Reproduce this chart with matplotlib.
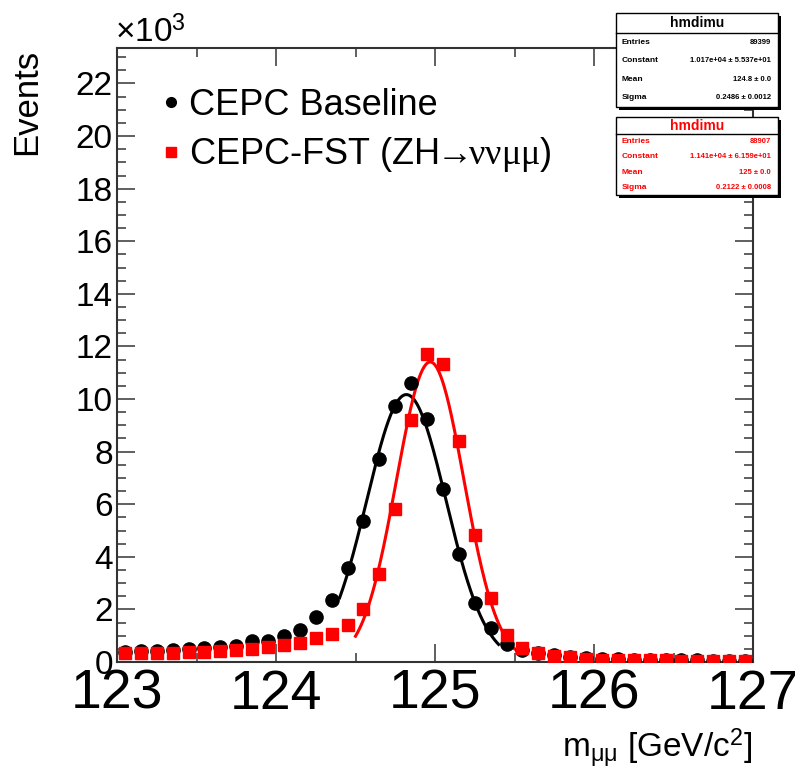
import numpy as np
import matplotlib
matplotlib.use('Agg')
import matplotlib.pyplot as plt
from matplotlib.patches import Rectangle
from matplotlib.lines import Line2D
from matplotlib.ticker import MultipleLocator

plt.rcParams['font.family'] = ['Liberation Sans', 'DejaVu Sans']
plt.rcParams['mathtext.fontset'] = 'custom'
plt.rcParams['mathtext.rm'] = 'Liberation Sans'
plt.rcParams['mathtext.it'] = 'Liberation Serif'

# bin centres, 0.1 GeV bins from 123 to 127
mass = np.round(np.arange(123.05, 127.0, 0.1), 2)
# events in units of 10^3
baseline = [0.38, 0.40, 0.42, 0.45, 0.50, 0.52, 0.58, 0.61, 0.78, 0.80,
            0.99, 1.22, 1.70, 2.36, 3.56, 5.37, 7.71, 9.73, 10.60, 9.23,
            6.57, 4.11, 2.26, 1.30, 0.68, 0.46, 0.33, 0.25, 0.20, 0.17,
            0.13, 0.11, 0.09, 0.08, 0.07, 0.06, 0.06, 0.05, 0.05, 0.05]
fst = [0.33, 0.33, 0.33, 0.36, 0.37, 0.39, 0.43, 0.46, 0.48, 0.56,
       0.65, 0.71, 0.90, 1.06, 1.41, 2.00, 3.35, 5.80, 9.20, 11.71,
       11.32, 8.42, 4.83, 2.42, 1.03, 0.55, 0.36, 0.23, 0.18, 0.10,
       0.08, 0.07, 0.07, 0.06, 0.06, 0.05, 0.05, 0.05, 0.05, 0.05]

# gaussian fit results (constant in 10^3, mean, sigma, fit range)
fit_base = (10.17, 124.82, 0.2486, 124.40, 125.40)
fit_fst = (11.41, 124.97, 0.2122, 124.50, 125.50)

stats_base = [('Entries', '89399'), ('Constant', '1.017e+04 ± 5.537e+01'),
              ('Mean', '124.8 ± 0.0'), ('Sigma', '0.2486 ± 0.0012')]
stats_fst = [('Entries', '88907'), ('Constant', '1.141e+04 ± 6.159e+01'),
             ('Mean', '125 ± 0.0'), ('Sigma', '0.2122 ± 0.0008')]

W, H = 795, 773
fig = plt.figure(figsize=(W/100, H/100), dpi=100)
ax = fig.add_axes([117/W, 1-662/H, (753-117)/W, (662-48)/H])


def gauss(x, c, m, s):
    return c*np.exp(-0.5*((x-m)/s)**2)


for p, col in [(fit_base, 'black'), (fit_fst, 'red')]:
    xx = np.linspace(p[3], p[4], 200)
    ax.plot(xx, gauss(xx, p[0], p[1], p[2]), color=col, lw=2.2, zorder=2)

ax.plot(mass, baseline, 'o', color='black', ms=9.5, zorder=3)
ax.plot(mass, fst, 's', color='red', ms=9, mec='red', zorder=4)

ax.set_xlim(123, 127)
ax.set_ylim(0, 23.35)
ax.xaxis.set_major_locator(MultipleLocator(1))
ax.xaxis.set_minor_locator(MultipleLocator(0.5))
ax.yaxis.set_major_locator(MultipleLocator(2))
ax.yaxis.set_minor_locator(MultipleLocator(0.5))
ax.tick_params(which='both', direction='in', top=True, right=True, color='#444')
ax.tick_params(which='major', length=13, width=1.2)
ax.tick_params(which='minor', length=6.5, width=1.2)
ax.tick_params(axis='x', labelsize=40, pad=5)
ax.tick_params(axis='y', labelsize=24, pad=3)
for sp in ax.spines.values():
    sp.set_linewidth(1.5)
    sp.set_color('#333')

fig.text(27/W, 1-102/H, 'Events', fontsize=25, rotation=90, ha='center', va='center')
fig.text(115/W, 1-42/H, '×10$^3$', fontsize=24)
fig.text(752/W, 1-757/H, 'm$_{\\mathrm{\\mu\\mu}}$ [GeV/c$^2$]', fontsize=24, ha='right')

handles = [Line2D([], [], marker='o', ls='', color='black', ms=7),
           Line2D([], [], marker='s', ls='', color='red', ms=7)]
ax.legend(handles, ['CEPC Baseline',
                    'CEPC-FST (ZH$\\!\\!\\rightarrow\\!\\!\\nu\\nu\\mu\\mu$)'],
          fontsize=26, loc='upper left', bbox_to_anchor=(0.045, 0.965), frameon=False,
          handlelength=0.4, handletextpad=0.3, labelspacing=0.35, borderpad=0)


def stat_box(top, bottom, sep, rows, col):
    x0, x1 = 616, 778
    tr = fig.transFigure
    fig.patches.append(Rectangle((x0/W+3/W, 1-(bottom+3)/H), (x1-x0)/W, (bottom-top)/H,
                                 transform=tr, facecolor='black', edgecolor='none', zorder=10))
    fig.patches.append(Rectangle((x0/W, 1-bottom/H), (x1-x0)/W, (bottom-top)/H,
                                 transform=tr, facecolor='white', edgecolor='black', lw=1, zorder=11))
    fig.lines.append(Line2D([x0/W, x1/W], [1-sep/H, 1-sep/H], transform=tr,
                            color='black', lw=1, zorder=12))
    fig.text((x0+x1)/2/W, 1-(top+sep)/2/H, 'hmdimu', fontsize=10, weight='bold',
             color=col, ha='center', va='center', zorder=13)
    step = (bottom-sep)/len(rows)
    for i, (k, v) in enumerate(rows):
        y = 1-(sep+step*(i+0.5))/H
        fig.text(622/W, y, k, fontsize=6, weight='bold', color=col, va='center', zorder=13)
        fig.text(771/W, y, v, fontsize=5.5, weight='bold', color=col, va='center',
                 ha='right', zorder=13)


stat_box(13, 107, 33, stats_base, 'black')
stat_box(117, 195, 134, stats_fst, 'red')

fig.savefig('out.png', dpi=100)
